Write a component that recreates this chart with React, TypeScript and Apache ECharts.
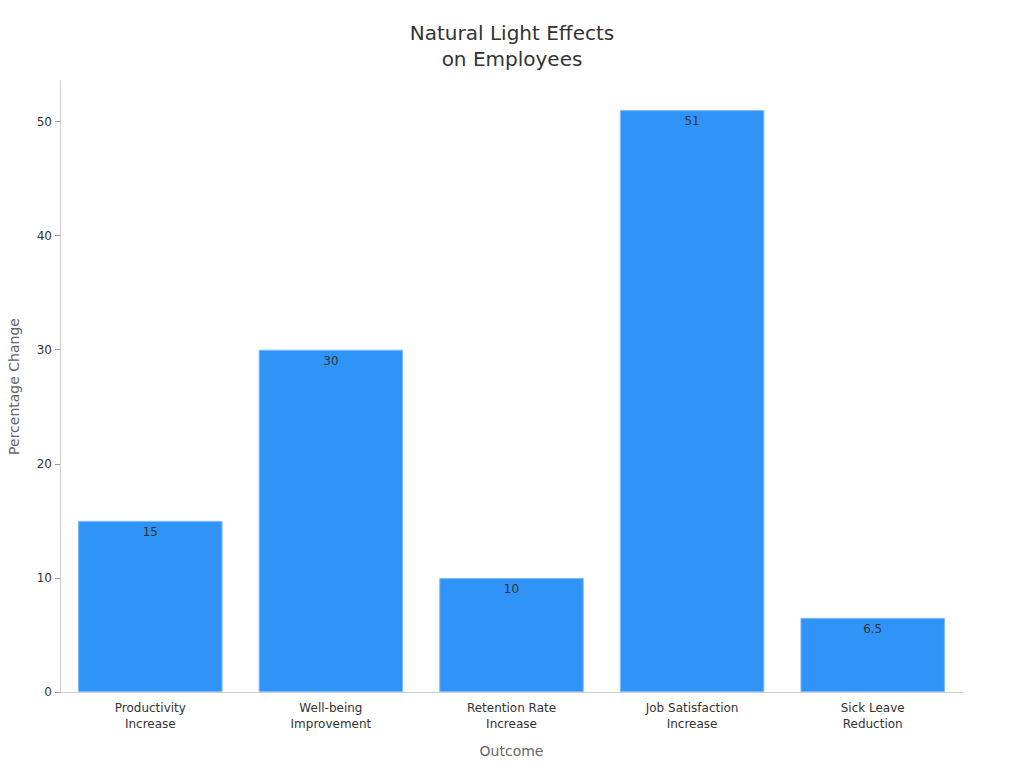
import React, { useEffect, useRef } from "react";
import * as echarts from "echarts";

const categories = [
  "Productivity\nIncrease",
  "Well-being\nImprovement",
  "Retention Rate\nIncrease",
  "Job Satisfaction\nIncrease",
  "Sick Leave\nReduction",
];
const values = [15, 30, 10, 51, 6.5];

const FONT = "DejaVu Sans";

export default function App() {
  const ref = useRef<HTMLDivElement>(null);

  useEffect(() => {
    if (!ref.current) return;
    const chart = echarts.init(ref.current, undefined, { renderer: "svg" });
    const yMax = Math.max(...values) * 1.05;
    chart.setOption({
      animation: false,
      textStyle: { fontFamily: FONT },
      title: {
        text: "Natural Light Effects\non Employees",
        left: "center",
        top: 15,
        textStyle: {
          fontFamily: FONT,
          fontSize: 20,
          fontWeight: "normal",
          color: "#333",
          lineHeight: 26,
        },
      },
      grid: { left: 60, right: 61, top: 81, bottom: 76, outerBoundsMode: "none", containLabel: false },
      xAxis: {
        type: "category",
        data: categories,
        name: "Outcome",
        nameLocation: "middle",
        nameGap: 52,
        nameTextStyle: { fontFamily: FONT, fontSize: 14, color: "#666" },
        axisLine: { lineStyle: { color: "#ccc" } },
        axisTick: { alignWithLabel: true, length: 5, lineStyle: { color: "#999" } },
        axisLabel: { fontFamily: FONT, fontSize: 12, color: "#333", lineHeight: 16, margin: 8 },
      },
      yAxis: {
        type: "value",
        min: 0,
        max: yMax,
        interval: 10,
        name: "Percentage Change",
        nameLocation: "middle",
        nameGap: 39,
        nameTextStyle: { fontFamily: FONT, fontSize: 14, color: "#666" },
        axisLine: { show: true, lineStyle: { color: "#ccc" } },
        axisTick: { show: true, length: 5, lineStyle: { color: "#999" } },
        axisLabel: { fontFamily: FONT, fontSize: 12, color: "#333", showMaxLabel: false, margin: 8 },
        splitLine: { show: false },
      },
      series: [
        {
          type: "bar",
          data: values,
          barCategoryGap: "20%",
          itemStyle: { color: "#2f93f8", borderColor: "#7dbcfa", borderWidth: 1 },
          label: {
            show: true,
            position: "insideTop",
            distance: 5,
            fontFamily: FONT,
            fontSize: 12,
            color: "#333",
          },
        },
      ],
    });
    return () => chart.dispose();
  }, []);

  return <div ref={ref} style={{ width: 1024, height: 768, position: "absolute", left: 0, top: 0 }} />;
}
